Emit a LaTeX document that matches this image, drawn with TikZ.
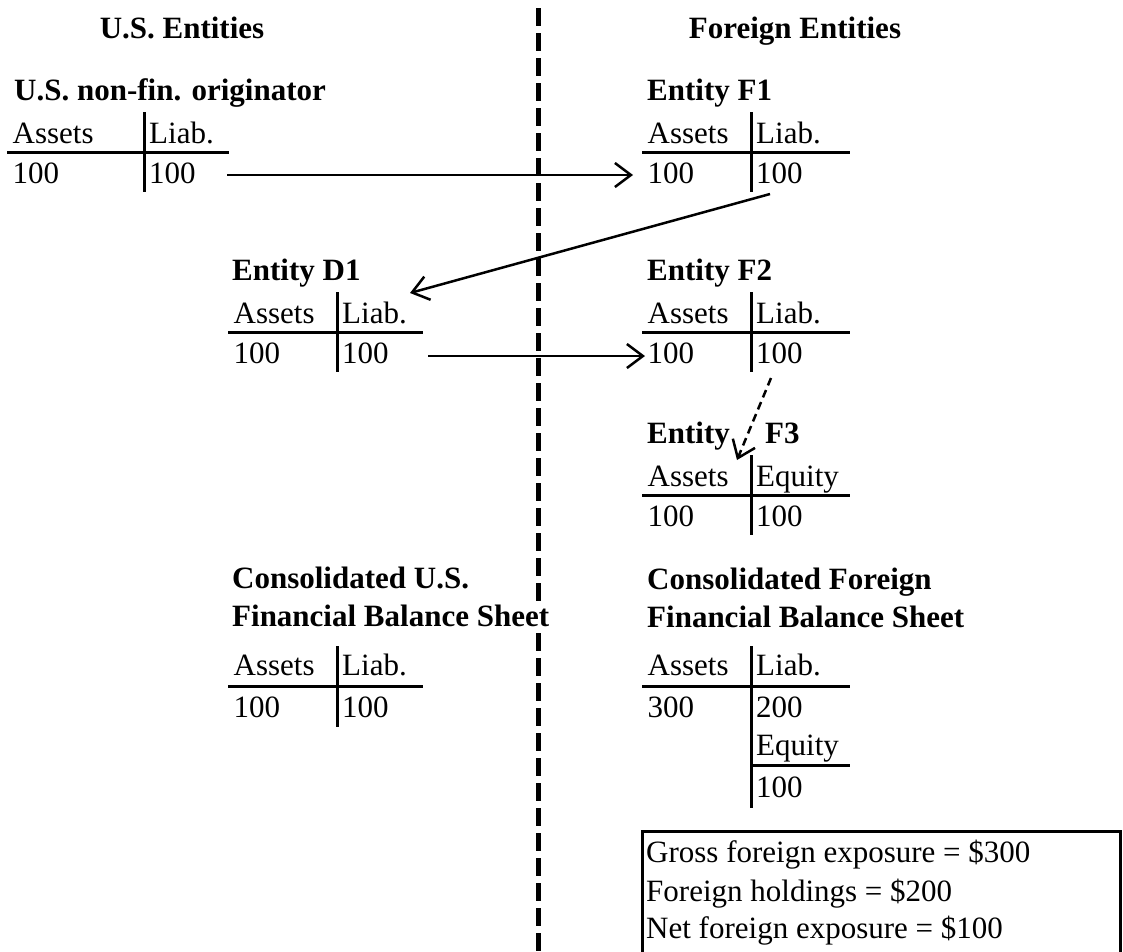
\documentclass[tikz,border=0pt]{standalone}
\usepackage{fontspec}
\setmainfont{Liberation Serif}
\usetikzlibrary{arrows.meta}
\newcommand\tacct[9]{%
  \node[txt] (#1ha) at (#2+5.5,#5+43) {#6};
  \node[txt] (#1hb) at (#3+5,#5+43) {#7};
  \node[txt] (#1va) at (#2+5.5,#5+83) {#8};
  \node[txt] (#1vb) at (#3+5,#5+83) {#9};
  \draw[rule] (#2,#5+52) -- (#4,#5+52);
  \draw[rule] (#3,#5+12) -- (#3,#5+92);
}
\begin{document}
\begin{tikzpicture}[x=1pt,y=-1pt,
  txt/.style={anchor=base west, inner sep=0pt, font=\fontsize{31}{37}\selectfont},
  ttl/.style={anchor=base west, inner sep=0pt, font=\fontsize{31}{37}\selectfont\bfseries},
  hdr/.style={anchor=base, inner sep=0pt, font=\fontsize{31}{37}\selectfont\bfseries},
  rule/.style={line width=3pt},
  flow/.style={line width=2.5pt, -{Straight Barb[length=16pt,width=24pt,line width=2.5pt]}},
  flowdash/.style={flow, dash pattern=on 8pt off 5pt},
  divider/.style={line width=5pt, dash pattern=on 18pt off 7pt},
  frame/.style={line width=3pt}
]
\useasboundingbox (0,0) rectangle (1123,951);

% divider
\coordinate (dtop) at (538,8);
\coordinate (dbot) at (538,955);
\draw[divider] (dtop) -- (dbot);

% headers
\node[hdr] (husa) at (182,38) {U.S. Entities};
\node[hdr] (hfor) at (795,38) {Foreign Entities};

% U.S. non-fin. originator
\node[ttl] (usT) at (14,100) {U.S. non-fin. originator};
\tacct{us}{7}{144}{229}{100}{Assets}{Liab.}{100}{100}

% Entity F1
\node[ttl] (f1T) at (647,100) {Entity F1};
\tacct{fa}{642}{751}{850}{100}{Assets}{Liab.}{100}{100}

% Entity D1
\node[ttl] (d1T) at (232,280) {Entity D1};
\tacct{da}{228}{337}{423}{280}{Assets}{Liab.}{100}{100}

% Entity F2
\node[ttl] (f2T) at (647,280) {Entity F2};
\tacct{fb}{642}{751}{850}{280}{Assets}{Liab.}{100}{100}

% Entity F3
\node[ttl] (f3Ta) at (647,443) {Entity};
\node[ttl] (f3Tb) at (765,443) {F3};
\tacct{fc}{642}{751}{850}{443}{Assets}{Equity}{100}{100}

% Consolidated U.S.
\node[ttl] (cuT1) at (232,588) {Consolidated U.S.};
\node[ttl, fill=white, inner ysep=2pt] (cuT2) at (232,626) {Financial Balance Sheet};
\node[txt] (cuha) at (233.5,675) {Assets};
\node[txt] (cuhb) at (342,675) {Liab.};
\node[txt] (cuva) at (233.5,717) {100};
\node[txt] (cuvb) at (342,717) {100};
\draw[rule] (228,686) -- (423,686);
\draw[rule] (337,646) -- (337,727);

% Consolidated Foreign
\node[ttl] (cfT1) at (647,589) {Consolidated Foreign};
\node[ttl] (cfT2) at (647,627) {Financial Balance Sheet};
\node[txt] (cfha) at (647.5,675) {Assets};
\node[txt] (cfhb) at (756,675) {Liab.};
\node[txt] (cfva) at (647.5,717) {300};
\node[txt] (cfvb) at (756,717) {200};
\node[txt] (cfeq) at (756,755) {Equity};
\node[txt] (cfev) at (756,797) {100};
\draw[rule] (642,686) -- (850,686);
\draw[rule] (751,765) -- (850,765);
\draw[rule] (751,646) -- (751,808);

% summary box
\draw[frame] (642,960) -- (642,831) -- (1120,831) -- (1120,960);
\node[txt] (bx1) at (646,862) {Gross foreign exposure = \$300};
\node[txt] (bx2) at (646,901) {Foreign holdings = \$200};
\node[txt] (bx3) at (646,938) {Net foreign exposure = \$100};

% connectors
\coordinate (a1s) at (227,175);
\coordinate (a1e) at (633,175);
\coordinate (a2s) at (770,194);
\coordinate (a2e) at (410,293);
\coordinate (a3s) at (428,356);
\coordinate (a3e) at (645,356);
\coordinate (a4s) at (771,378);
\coordinate (a4e) at (737,460);
\draw[flow] (a1s) -- (a1e);
\draw[flow] (a2s) -- (a2e);
\draw[flow] (a3s) -- (a3e);
\draw[flowdash] (a4s) -- (a4e);
\end{tikzpicture}
\end{document}
